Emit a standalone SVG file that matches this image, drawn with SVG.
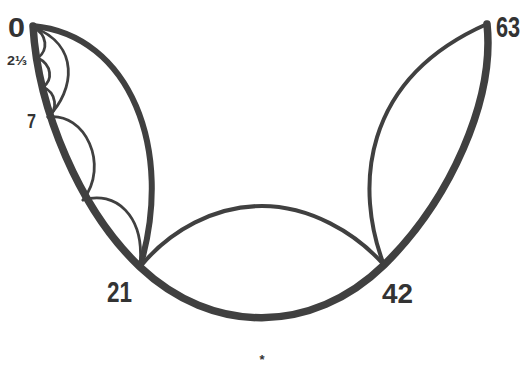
<svg xmlns="http://www.w3.org/2000/svg" width="523" height="367" viewBox="0 0 523 367">
<style>
.thick{fill:none;stroke:#404040;stroke-width:7.5;stroke-linecap:round;stroke-linejoin:round}
.mid{fill:none;stroke:#404040;stroke-width:6;stroke-linecap:round}
.med{fill:none;stroke:#404040;stroke-width:4;stroke-linecap:round}
.thin{fill:none;stroke:#404040;stroke-width:2.8;stroke-linecap:round}
.lbl{font-family:"Liberation Sans","DejaVu Sans",sans-serif;font-weight:bold;fill:#333}
</style>
<rect width="523" height="367" fill="#ffffff"/>
<g id="connectors">
  <path class="thick" d="M33,26 C38,110 80,210 140,267 C212,335 312,335 384,265 C450,200 495,100 487,24"/>
  <path class="mid" d="M33,26 C130,35 175,150 140,267"/>
  <path class="med" d="M140,267 C170,230 215,206 262,206 C309,206 355,232 384,265"/>
  <path class="med" d="M384,265 C355,190 360,80 487,24"/>
  <path class="thin" d="M48,117 C75,90 80,45 33,27"/>
  <path class="thin" d="M33,27 C48,35 48,50 38,58"/>
  <path class="thin" d="M38,58 C52,65 53,80 43,87"/>
  <path class="thin" d="M43,87 C57,93 58,110 48,117"/>
  <path class="thin" d="M48,117 C85,112 110,165 83,200"/>
  <path class="thin" d="M83,200 C115,190 145,215 140,266"/>
</g>
<g id="labels">
  <text class="lbl" x="8" y="37" font-size="27" textLength="17" lengthAdjust="spacingAndGlyphs">0</text>
  <text class="lbl" x="7" y="65" font-size="13" textLength="20" lengthAdjust="spacingAndGlyphs">2⅓</text>
  <text class="lbl" x="27" y="128" font-size="21" textLength="9" lengthAdjust="spacingAndGlyphs">7</text>
  <text class="lbl" x="107" y="302" font-size="29" textLength="25" lengthAdjust="spacingAndGlyphs">21</text>
  <text class="lbl" x="382" y="303" font-size="27" textLength="31" lengthAdjust="spacingAndGlyphs">42</text>
  <text class="lbl" transform="translate(496,37) scale(0.75,1)" font-size="29">63</text>
  <text class="lbl" x="262" y="364" font-size="13" text-anchor="middle">*</text>
</g>
</svg>
